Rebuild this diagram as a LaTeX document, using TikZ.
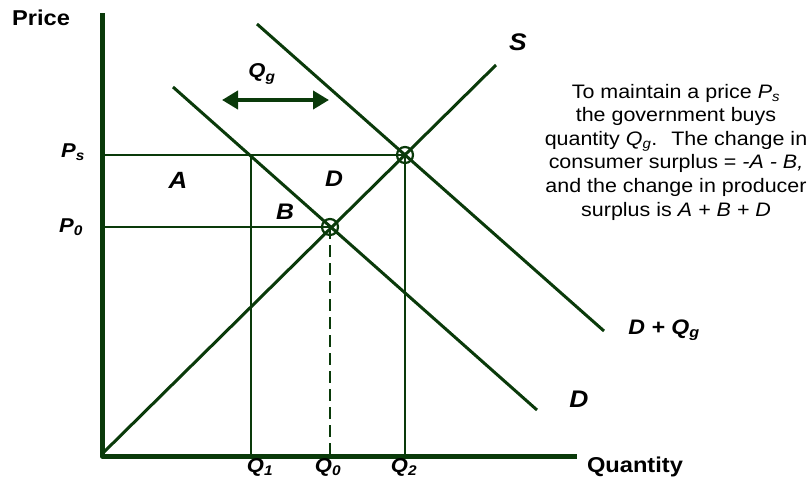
\documentclass[tikz,border=0pt]{standalone}
\usepackage{fontspec}
\setmainfont{Liberation Sans}[FakeStretch=1.1]
\usetikzlibrary{arrows.meta}
\definecolor{econgreen}{RGB}{10,58,10}

\begin{document}
\begin{tikzpicture}[x=1pt,y=-1pt,line join=round,
  curve/.style={econgreen,line width=3pt},
  guide/.style={econgreen,line width=2.6pt},
  axisline/.style={econgreen,line width=5pt},
  axislabel/.style={font=\fontsize{21.5}{24}\selectfont\bfseries,inner sep=0pt},
  tag/.style={font=\fontsize{20}{24}\selectfont\bfseries\itshape,inner sep=0pt},
  regiontag/.style={font=\fontsize{23.5}{26}\selectfont\bfseries\itshape,inner sep=0pt},
  bigtag/.style={font=\fontsize{24}{28}\selectfont\bfseries\itshape,inner sep=0pt},
  note/.style={font=\fontsize{19.5}{23.6}\selectfont,align=center,inner sep=0pt}]
  \useasboundingbox (0,0) rectangle (809,483);
  % Key points.
  \coordinate (origin) at (102,456);
  \coordinate (ytop) at (102,13);
  \coordinate (xend) at (577,456);
  \coordinate (sstart) at (104,452);
  \coordinate (send) at (496,65);
  \coordinate (dstart) at (173,87);
  \coordinate (dend) at (537,410);
  \coordinate (dqstart) at (257,24);
  \coordinate (dqend) at (604,331);
  \coordinate (eqzero) at (330,227);
  \coordinate (eqtwo) at (405,155);
  \coordinate (qonetop) at (251,155);
  \coordinate (psleft) at (102,155);
  \coordinate (pzleft) at (102,227);
  \coordinate (qone) at (251,456);
  \coordinate (qzero) at (330,456);
  \coordinate (qtwo) at (405,456);
  % Supply and demand curves.
  \draw[curve] (sstart) -- (send);
  \draw[curve] (dstart) -- (dend);
  \draw[curve] (dqstart) -- (dqend);
  % Price and quantity guides.
  \draw[guide] (psleft) -- (eqtwo);
  \draw[guide] (pzleft) -- (eqzero);
  \draw[guide] (qonetop) -- (qone);
  \draw[guide] (eqtwo) -- (qtwo);
  \draw[guide,dash pattern=on 12pt off 6pt] (eqzero) -- (qzero);
  \draw[guide,line width=2.2pt] (eqzero) circle (8);
  \draw[guide,line width=2.2pt] (eqtwo) circle (8);
  % Axes.
  \draw[axisline] (ytop) -- (origin) -- (xend);
  % Purchase arrow.
  \coordinate (qgleft) at (222,100);
  \coordinate (qgright) at (329,100);
  \draw[econgreen,line width=4.5pt,{Triangle[length=16pt,width=18pt]}-{Triangle[length=16pt,width=18pt]}]
    (qgleft) -- (qgright);
  % Labels.
  \node[axislabel] (pricelab) at (41,18) {Price};
  \node[axislabel] (qtylab) at (635,467) {Quantity};
  \node[tag] (pslab) at (73,152) {P\textsubscript{s}};
  \node[tag] (pzlab) at (71,227) {P\textsubscript{0}};
  \node[tag] (qonelab) at (260,467) {Q\textsubscript{1}};
  \node[tag] (qzerolab) at (328,467) {Q\textsubscript{0}};
  \node[tag] (qtwolab) at (404,467) {Q\textsubscript{2}};
  \node[tag] (qglab) at (262,74) {Q\textsubscript{g}};
  \node[regiontag] (alab) at (178,180) {A};
  \node[regiontag,font=\fontsize{22.5}{26}\selectfont\bfseries\itshape] (dreg) at (334,179) {D};
  \node[regiontag,font=\fontsize{22.5}{26}\selectfont\bfseries\itshape] (blab) at (285,212) {B};
  \node[bigtag] (slab) at (518,42) {S};
  \node[bigtag] (dlab) at (579,399) {D};
  \node[tag,font=\fontsize{21}{24}\selectfont\bfseries\itshape] (dqlab) at (664,330) {D + Q\textsubscript{g}};
  \node[note] (notebox) at (676,152)
    {To maintain a price \textit{P\textsubscript{s}}\\
     the government buys\\
     quantity \textit{Q\textsubscript{g}}.~ The change in\\
     consumer surplus = \textit{-A - B,}\\
     and the change in producer\\
     surplus is \textit{A + B + D}};
\end{tikzpicture}
\end{document}
